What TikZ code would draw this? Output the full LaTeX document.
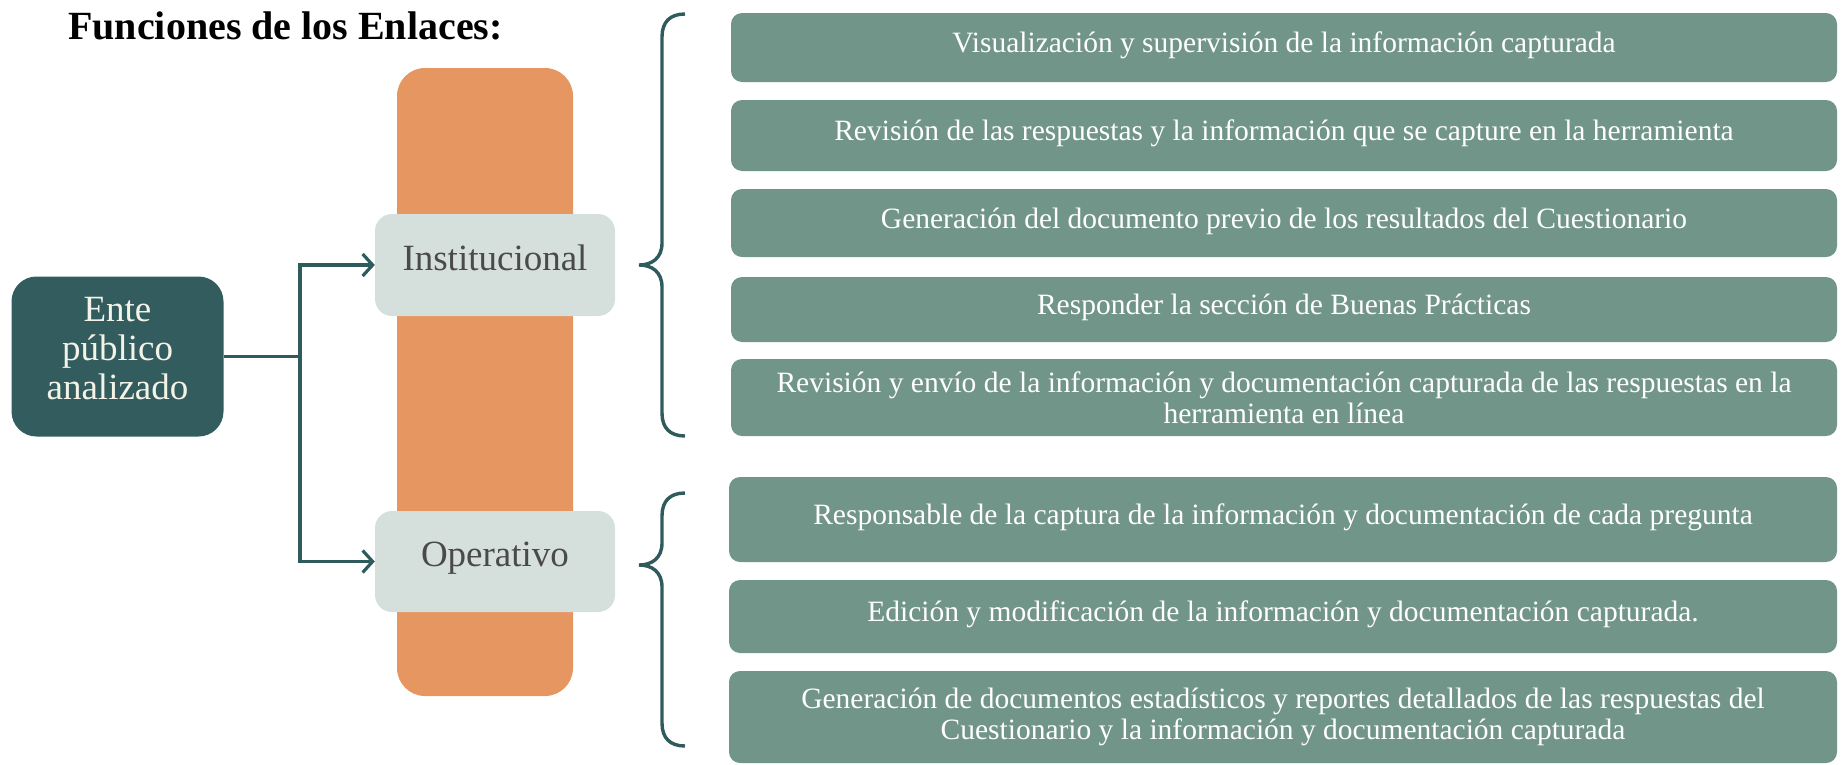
\documentclass[tikz,border=0pt]{standalone}
\usepackage{fontspec}
\setmainfont{Liberation Serif}
\usetikzlibrary{arrows.meta}
\definecolor{entefill}{HTML}{335C5E}
\definecolor{linec}{HTML}{2F5B5D}
\definecolor{orangec}{HTML}{E69661}
\definecolor{lightbox}{HTML}{D5E0DC}
\definecolor{rboxc}{HTML}{72958A}
\definecolor{entetextc}{HTML}{F3F3E8}
\definecolor{graytext}{HTML}{4A4A4A}
\newcommand\myrfont{\fontsize{29.5pt}{31pt}\selectfont}
\newcommand\mymidfont{\fontsize{37pt}{39pt}\selectfont}
\newcommand\mytitlefont{\fontsize{40pt}{44pt}\selectfont\bfseries}
\tikzset{
  rbox/.style={fill=rboxc, draw=none, rounded corners=11pt, text=white, font=\myrfont,
    align=center, inner sep=0pt},
  oneline/.style={text height=15pt, text depth=5pt},
  lbox/.style={fill=lightbox, draw=none, rounded corners=17pt, text=graytext, font=\mymidfont,
    inner sep=0pt, minimum width=240pt, text height=15pt, text depth=5pt},
  entebox/.style={fill=entefill, draw=none, rounded corners=25pt, minimum width=212pt,
    minimum height=160pt, inner sep=0pt},
  entetxt/.style={text=entetextc, font=\mymidfont, align=center, inner sep=0pt},
  orangebar/.style={fill=orangec, draw=none, rounded corners=28pt, minimum width=176pt,
    minimum height=628pt, inner sep=0pt},
  conn/.style={draw=linec, line width=3.2pt},
  arr/.style={conn, -{Straight Barb[length=10pt,width=22pt]}},
  bracec/.style={draw=linec, line width=3.4pt}
}
\begin{document}
\begin{tikzpicture}[x=1pt,y=-1pt]
\useasboundingbox (0,0) rectangle (1841,764);
% title
\node[anchor=base west, font=\mytitlefont, inner sep=0pt] (title) at (68,39) {Funciones de los Enlaces:};
% orange bar and category boxes
\node[orangebar] (bar) at (485,382) {};
\node[lbox, minimum height=102pt] (inst) at (495,265) {Institucional};
\node[lbox, minimum height=101pt] (oper) at (495,561.5) {Operativo};
% ente
\node[entebox] (ente) at (117.5,356.5) {};
\node[entetxt] (entet) at (117.5,349) {Ente\\público\\analizado};
% connectors
\coordinate (split) at (300,356.5);
\draw[conn] (ente.east) -- (split);
\draw[arr] (split) |- (inst.west);
\draw[arr] (split) |- (oper.west);
% braces
\coordinate (b1top) at (685,14);
\coordinate (b1tip) at (639,265);
\coordinate (b1bot) at (685,436);
\draw[bracec] (b1top) .. controls (670,14) and (662,22) .. (662,37) -- (662,243)
  .. controls (662,258) and (652,265) .. (b1tip)
  .. controls (652,265) and (662,272) .. (662,287) -- (662,413)
  .. controls (662,428) and (670,436) .. (b1bot);
\coordinate (b2top) at (685,493);
\coordinate (b2tip) at (639,565);
\coordinate (b2bot) at (685,746);
\draw[bracec] (b2top) .. controls (670,493) and (662,501) .. (662,516) -- (662,543)
  .. controls (662,558) and (652,565) .. (b2tip)
  .. controls (652,565) and (662,572) .. (662,587) -- (662,723)
  .. controls (662,738) and (670,746) .. (b2bot);
% right boxes
\node[rbox, oneline, minimum width=1106pt, minimum height=69pt] (r1) at (1284,47.5)
  {Visualización y supervisión de la información capturada};
\node[rbox, oneline, minimum width=1106pt, minimum height=71pt] (r2) at (1284,135.5)
  {Revisión de las respuestas y la información que se capture en la herramienta};
\node[rbox, oneline, minimum width=1106pt, minimum height=68pt] (r3) at (1284,223)
  {Generación del documento previo de los resultados del Cuestionario};
\node[rbox, oneline, minimum width=1106pt, minimum height=65pt] (r4) at (1284,309.5)
  {Responder la sección de Buenas Prácticas};
\node[rbox, minimum width=1106pt, minimum height=77pt, text depth=-4pt] (r5) at (1284,397.5)
  {Revisión y envío de la información y documentación capturada de las respuestas en la\\herramienta en línea};
\node[rbox, oneline, minimum width=1108pt, minimum height=85pt] (r6) at (1283,519.5)
  {Responsable de la captura de la información y documentación de cada pregunta};
\node[rbox, oneline, minimum width=1108pt, minimum height=73pt] (r7) at (1283,616.5)
  {Edición y modificación de la información y documentación capturada.};
\node[rbox, minimum width=1108pt, minimum height=92pt] (r8) at (1283,717)
  {Generación de documentos estadísticos y reportes detallados de las respuestas del\\Cuestionario y la información y documentación capturada};
\end{tikzpicture}
\end{document}
